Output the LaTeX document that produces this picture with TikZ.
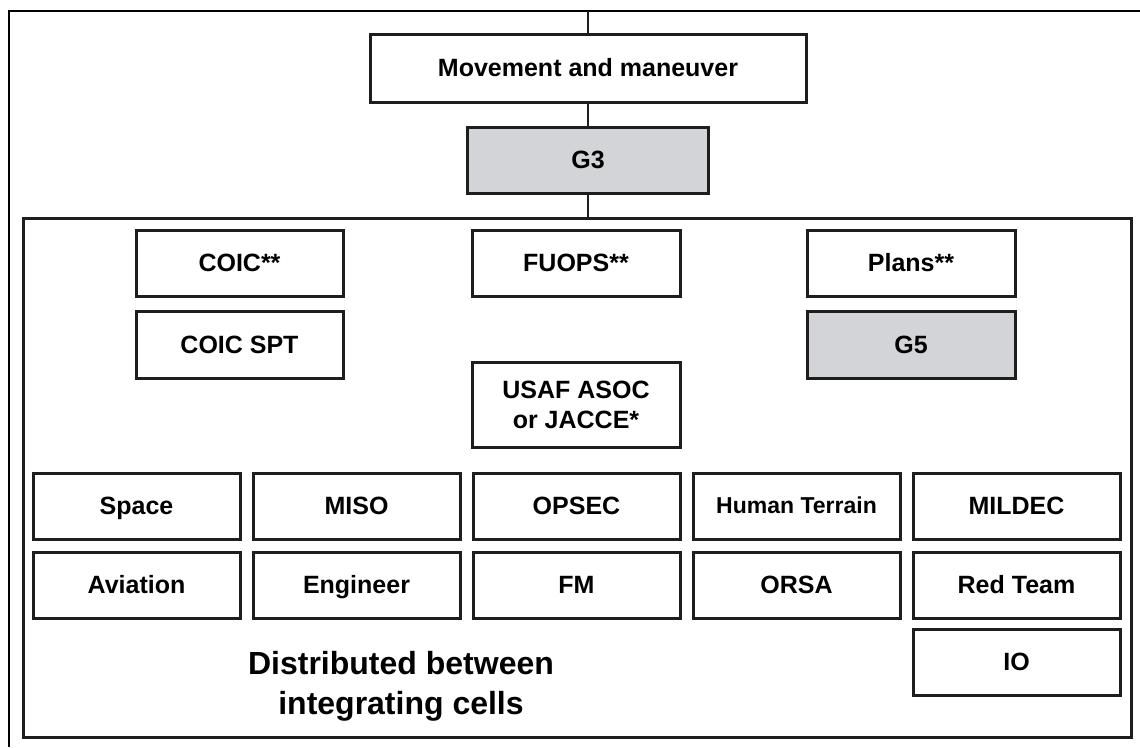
\documentclass[tikz,border=0pt]{standalone}
\usepackage{fontspec}
\setmainfont{Liberation Sans}
\definecolor{boxline}{HTML}{1E1E1E}
\definecolor{gfill}{HTML}{D3D4D8}
\tikzset{
  cellbase/.style={draw=boxline, line width=3pt, fill=white, inner sep=0pt, align=center,
    font=\bfseries\fontsize{25}{30}\selectfont, minimum width=207pt, minimum height=66pt},
  cell/.style={cellbase, text height=17.9pt, text depth=0pt},
  grey/.style={fill=gfill},
  conn/.style={draw=boxline, line width=2.5pt},
  frame/.style={draw=boxline, line width=3pt},
  outer/.style={draw=black, line width=1.5pt}
}
\begin{document}
\begin{tikzpicture}[x=1pt,y=-1pt]
\useasboundingbox[fill=white] (0,0) rectangle (1140,747);
% outer open frame
\draw[outer] (1140,11) -- (9,11) -- (9,747);
% inner frame
\draw[frame] (23,218) rectangle (1131,737);
\coordinate (topc) at (588,11);
\coordinate (innertop) at (588,218);
% upper chain
\node[cell, minimum width=436pt, minimum height=68pt] (mm) at (588,68) {Movement and maneuver};
\node[cell, grey, minimum width=241pt] (g3) at (588,160) {G3};
% integrating cells
\node[cell] (coic) at (239.5,263) {COIC**};
\node[cell, minimum height=67pt] (coicspt) at (239.5,344.5) {COIC SPT};
\node[cell, minimum width=208pt] (fuops) at (576,263) {FUOPS**};
\node[cellbase, minimum width=208pt, minimum height=85pt] (usaf) at (576,404.5) {USAF ASOC\\or JACCE*};
\node[cell, minimum width=208pt] (plans) at (911,263) {Plans**};
\node[cell, grey, minimum width=208pt, minimum height=67pt] (g5) at (911,344.5) {G5};
% distributed cells
\node[cell] (space) at (136.5,506) {Space};
\node[cell] (miso) at (356.5,506) {MISO};
\node[cell] (opsec) at (576.5,506) {OPSEC};
\node[cell, font=\bfseries\fontsize{23}{28}\selectfont, text height=14pt] (ht) at (796.5,506) {Human Terrain};
\node[cell] (mildec) at (1016.5,506) {MILDEC};
\node[cell] (aviation) at (136.5,585) {Aviation};
\node[cell] (engineer) at (356.5,585) {Engineer};
\node[cell] (fm) at (576.5,585) {FM};
\node[cell] (orsa) at (796.5,585) {ORSA};
\node[cell] (redteam) at (1016.5,585) {Red Team};
\node[cell] (io) at (1016.5,662) {IO};
\node[align=center, inner sep=0pt, font=\bfseries\fontsize{32}{40}\selectfont] (dist) at (401,686) {Distributed between\\integrating cells};
% connectors
\draw[conn] (topc) -- (mm.north);
\draw[conn] (mm.south) -- (g3.north);
\draw[conn] (g3.south) -- (innertop);
\end{tikzpicture}
\end{document}
